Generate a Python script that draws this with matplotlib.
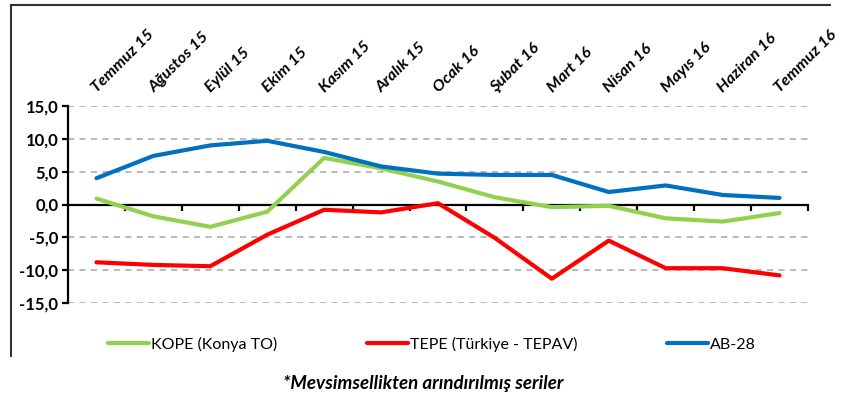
import matplotlib
matplotlib.use("Agg")
import matplotlib.pyplot as plt
from matplotlib.lines import Line2D
from matplotlib.ticker import FuncFormatter

plt.rcParams['font.family'] = ['Lato', 'DejaVu Sans']

# data
months = ["Temmuz 15", "Ağustos 15", "Eylül 15", "Ekim 15", "Kasım 15", "Aralık 15",
          "Ocak 16", "Şubat 16", "Mart 16", "Nisan 16", "Mayıs 16", "Haziran 16", "Temmuz 16"]
kope = [0.9, -1.8, -3.4, -1.1, 7.1, 5.5, 3.5, 1.1, -0.4, -0.2, -2.1, -2.6, -1.3]
tepe = [-8.8, -9.2, -9.4, -4.6, -0.8, -1.2, 0.2, -5.1, -11.3, -5.5, -9.7, -9.7, -10.8]
ab28 = [4.0, 7.4, 9.0, 9.7, 8.0, 5.8, 4.7, 4.5, 4.5, 1.9, 2.9, 1.45, 1.0]
yticks = [-15, -10, -5, 0, 5, 10, 15]

fig = plt.figure(figsize=(8.47, 4.0), dpi=100)
ax = fig.add_axes([68/847, 97/400, 740/847, 197/400])

x = list(range(len(months)))

# grid lines
for v in yticks:
    if v != 0:
        ax.axhline(v, color='#a6a6a6', lw=1.1, ls=(0, (4, 3.5)), zorder=1)

ax.plot(x, kope, color='#92d050', lw=3, solid_capstyle='round', zorder=3, label='KOPE (Konya TO)')
ax.plot(x, tepe, color='#ff0000', lw=3, solid_capstyle='round', zorder=3, label='TEPE (Türkiye - TEPAV)')
ax.plot(x, ab28, color='#0070c0', lw=3, solid_capstyle='round', zorder=3, label='AB-28')

ax.set_xlim(-0.5, len(months) - 0.5)
ax.set_ylim(-15, 15)

# axes
ax.spines['top'].set_visible(False)
ax.spines['right'].set_visible(False)
ax.spines['bottom'].set_position(('data', 0))
ax.spines['bottom'].set_linewidth(1.6)
ax.spines['left'].set_linewidth(1.6)
ax.spines['bottom'].set_zorder(2)

ax.set_yticks(yticks)
ax.yaxis.set_major_formatter(FuncFormatter(lambda v, p: f"{v:.1f}".replace('.', ',')))
ax.tick_params(axis='y', length=4, width=1.6, labelsize=12, pad=3)
for t in ax.get_yticklabels():
    t.set_fontweight('bold')

ax.set_xticks([i + 0.5 for i in x])
ax.set_xticklabels([])
ax.tick_params(axis='x', direction='out', length=4, width=1.6)

# rotated month labels on top
for i, m in enumerate(months):
    ax.text(i + 0.05, 16.6, m, rotation=45, rotation_mode='anchor', ha='left', va='bottom',
            fontsize=11.8, fontweight='bold', fontstyle='italic', clip_on=False)

# frame
fig.add_artist(Line2D([11/847, 11/847], [1 - 356/400, 1 - 5/400], color='#333333', lw=1.5))
fig.add_artist(Line2D([11/847, 830/847], [1 - 5/400, 1 - 5/400], color='#333333', lw=1.5))

fig.legend(loc='center', bbox_to_anchor=(432/847, 1 - 344/400), ncol=3, frameon=False,
           handlelength=2.55, handletextpad=0.15, columnspacing=5.6, fontsize=11.5)

fig.text(423/847, 1 - 384/400, "*Mevsimsellikten arındırılmış seriler", ha='center', va='center',
         fontsize=13.5, fontweight='bold', fontstyle='italic')

fig.savefig("out.png", dpi=100)
